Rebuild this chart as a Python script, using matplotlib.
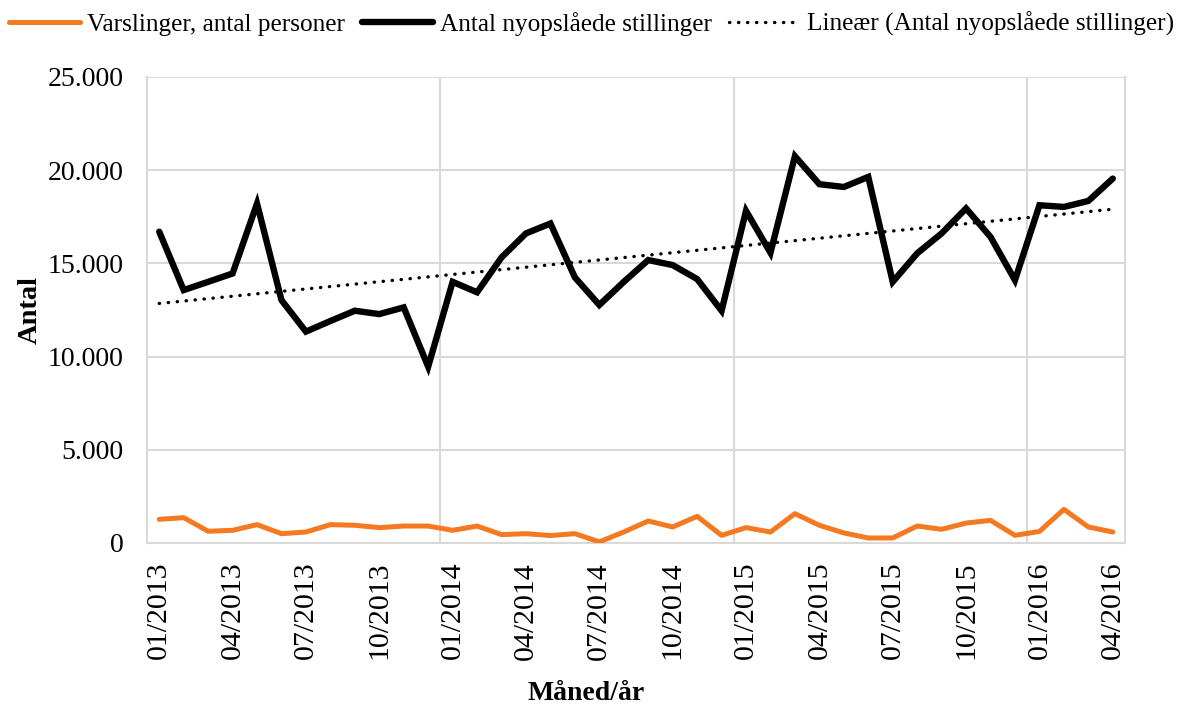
import numpy as np
import matplotlib
matplotlib.use("Agg")
import matplotlib.pyplot as plt

plt.rcParams['font.family'] = ['Liberation Serif', 'DejaVu Serif']

months = [f"{m:02d}/{y}" for y in (2013, 2014, 2015, 2016) for m in range(1, 13)][:40]

varslinger = [1270, 1360, 630, 680, 985, 500, 590, 985, 950, 825, 910, 910,
              680, 910, 450, 500, 400, 500, 60, 590, 1180, 860, 1430, 410,
              825, 590, 1575, 950, 540, 270, 270, 910, 735, 1070, 1215, 410,
              620, 1805, 860, 590]

stillinger = [16700, 13570, 14010, 14460, 18210, 13030, 11340, 11910, 12460, 12280, 12640, 9460,
              14010, 13450, 15320, 16610, 17140, 14250, 12770, 14010, 15180, 14910, 14160, 12460,
              17820, 15570, 20750, 19250, 19100, 19640, 14010, 15540, 16610, 17950, 16420, 14100,
              18120, 18030, 18350, 19550]

yticks = [0, 5000, 10000, 15000, 20000, 25000]
ytick_labels = ["0", "5.000", "10.000", "15.000", "20.000", "25.000"]

x = np.arange(len(months))
coef = np.polyfit(x, stillinger, 1)
trend = np.polyval(coef, x)

fig = plt.figure(figsize=(11.79, 7.06), dpi=100)
ax = fig.add_axes([147/1179, 1-543/706, (1125-147)/1179, (543-77)/706])

grid_c = "#D9D9D9"
l1, = ax.plot(x, varslinger, color="#F47920", lw=3.6, solid_capstyle="round", solid_joinstyle="round",
              label="Varslinger, antal personer", zorder=3)
l2, = ax.plot(x, stillinger, color="black", lw=4.6, solid_capstyle="round", solid_joinstyle="miter",
              label="Antal nyopslåede stillinger", zorder=4)
l3, = ax.plot(x, trend, color="black", lw=2.4, linestyle=(0, (0.1, 2.6)), dash_capstyle="round",
              label="Lineær (Antal nyopslåede stillinger)", zorder=5)

ax.set_xlim(-0.5, len(months) - 0.5)
ax.set_ylim(0, 25000)
ax.set_yticks(yticks)
ax.set_yticklabels(ytick_labels, fontsize=20)
ax.yaxis.grid(True, color=grid_c, lw=1.5)
for v in (11.5, 23.5, 35.5):
    ax.axvline(v, color=grid_c, lw=1.5, zorder=1)
ax.set_axisbelow(True)

tick_idx = list(range(0, len(months), 3))
ax.set_xticks(tick_idx)
ax.set_xticklabels([months[i] for i in tick_idx], rotation=90, fontsize=21.5)
ax.tick_params(axis="both", length=0)
ax.tick_params(axis="x", pad=13.5)
ax.tick_params(axis="y", pad=17)

ax.spines["top"].set_visible(False)
for s in ("left", "right", "bottom"):
    ax.spines[s].set_color(grid_c)
    ax.spines[s].set_linewidth(1.5)

ax.set_ylabel("Antal", fontsize=20.5, fontweight="bold", va="center", ha="center")
ax.yaxis.set_label_coords((30 - 147) / 978, 0.5)
ax.set_xlabel("Måned/år", fontsize=20, fontweight="bold", va="center", ha="center")
ax.xaxis.set_label_coords((586 - 147) / 978, (543 - 693) / 466)

fig.legend(handles=[l1, l2, l3], loc="center", bbox_to_anchor=(591.5 / 1179, 1 - 24 / 706), ncol=3,
           frameon=False, fontsize=18.2, handlelength=2.8, handletextpad=0.3, columnspacing=0.65,
           borderaxespad=0, borderpad=0)

fig.savefig("out.png", dpi=100)
